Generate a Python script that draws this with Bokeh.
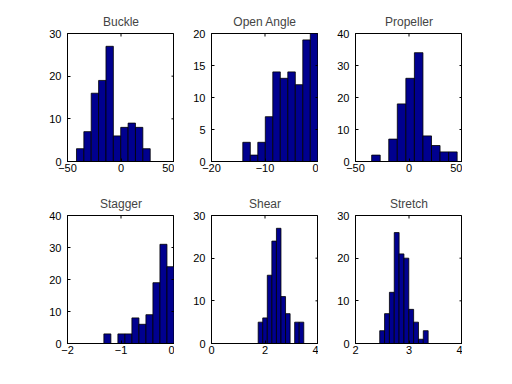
from bokeh.plotting import figure
from bokeh.layouts import gridplot
from bokeh.models import LinearAxis, FixedTicker, Range1d
from bokeh.embed import file_html
from bokeh.resources import INLINE

titles = ["Buckle", "Open Angle", "Propeller", "Stagger", "Shear", "Stretch"]

buckle_edges = [-41.6, 27.3]
buckle_counts = [3, 7, 16, 19, 27, 6, 8, 9, 8, 3]
open_edges = [-14.15, -0.13]
open_counts = [3, 1, 3, 7, 14, 13, 14, 12, 19, 20]
prop_edges = [-34.9, 45.0]
prop_counts = [2, 0, 7, 18, 26, 34, 8, 5, 3, 3]
stagger_edges = [-1.32, -0.01]
stagger_counts = [3, 0, 3, 3, 8, 6, 9, 19, 31, 24]
shear_edges = [1.745, 3.45]
shear_counts = [5, 6, 16, 24, 27, 11, 7, 0, 5, 5]
stretch_edges = [2.453, 3.358]
stretch_counts = [3, 7, 12, 26, 21, 20, 8, 5, 1, 3]

x_ranges = [(-50, 50), (-20, 0), (-50, 50), (-2, 0), (0, 4), (2, 4)]
y_ranges = [(0, 30), (0, 20), (0, 40), (0, 40), (0, 30), (0, 30)]
x_ticks = [[-50, 0, 50], [-20, -10, 0], [-50, 0, 50], [-2, -1, 0], [0, 2, 4], [2, 3, 4]]
y_ticks = [[0, 10, 20, 30], [0, 5, 10, 15, 20], [0, 10, 20, 30, 40],
           [0, 10, 20, 30, 40], [0, 10, 20, 30], [0, 10, 20, 30]]

edges = [buckle_edges, open_edges, prop_edges, stagger_edges, shear_edges, stretch_edges]
counts = [buckle_counts, open_counts, prop_counts, stagger_counts, shear_counts, stretch_counts]

FONT = "Liberation Sans"
FW, FH = 107, 128
TICK = 3

def style_axis(ax, ticks, standoff):
    ax.ticker = FixedTicker(ticks=ticks)
    ax.axis_line_color = "black"
    ax.major_tick_in = TICK
    ax.major_tick_out = 0
    ax.minor_tick_line_color = None
    ax.major_tick_line_color = "black"
    ax.major_label_text_font = FONT
    ax.major_label_text_color = "black"
    ax.major_label_text_font_size = "11px"
    ax.major_label_standoff = standoff

figs = []
for i in range(6):
    row = i // 3
    col = i % 3
    x0, x1 = x_ranges[i]
    y0, y1 = y_ranges[i]
    p = figure(frame_width=FW, frame_height=FH,
               x_range=Range1d(x0, x1), y_range=Range1d(y0, y1),
               output_backend="svg", toolbar_location=None,
               min_border_left=67 if col == 0 else 37,
               min_border_right=0,
               min_border_top=33 if row == 0 else 30,
               min_border_bottom=24,
               x_axis_location=None, y_axis_location=None)
    p.title.text = titles[i]
    p.title.align = "center"
    p.title.text_font = FONT
    p.title.text_font_size = "12px"
    p.title.text_font_style = "normal"
    p.title.standoff = 10
    p.grid.visible = False
    p.outline_line_color = "black"
    p.background_fill_color = "white"
    p.border_fill_color = "white"

    lo, hi = edges[i]
    n = len(counts[i])
    w = (hi - lo) / n
    lefts = [lo + k * w for k in range(n)]
    rights = [lo + (k + 1) * w for k in range(n)]
    p.quad(left=lefts, right=rights, bottom=0, top=counts[i],
           fill_color="#00008F", line_color="black", line_width=0.8)

    # mirrored inward ticks on top and right edges of the box
    dy = TICK / FH * (y1 - y0)
    dx = TICK / FW * (x1 - x0)
    xt = x_ticks[i]
    yt = y_ticks[i]
    p.segment(x0=xt, y0=[y1] * len(xt), x1=xt, y1=[y1 - dy] * len(xt),
              line_color="black", line_width=1)
    p.segment(x0=[x1] * len(yt), y0=yt, x1=[x1 - dx] * len(yt), y1=yt,
              line_color="black", line_width=1)

    xb = LinearAxis(); style_axis(xb, xt, 2)
    yl = LinearAxis(); style_axis(yl, yt, 6)
    p.add_layout(xb, "below")
    p.add_layout(yl, "left")
    figs.append(p)

grid = gridplot([figs[0:3], figs[3:6]], toolbar_location=None)
open("out.html", "w").write(file_html(grid, INLINE))
